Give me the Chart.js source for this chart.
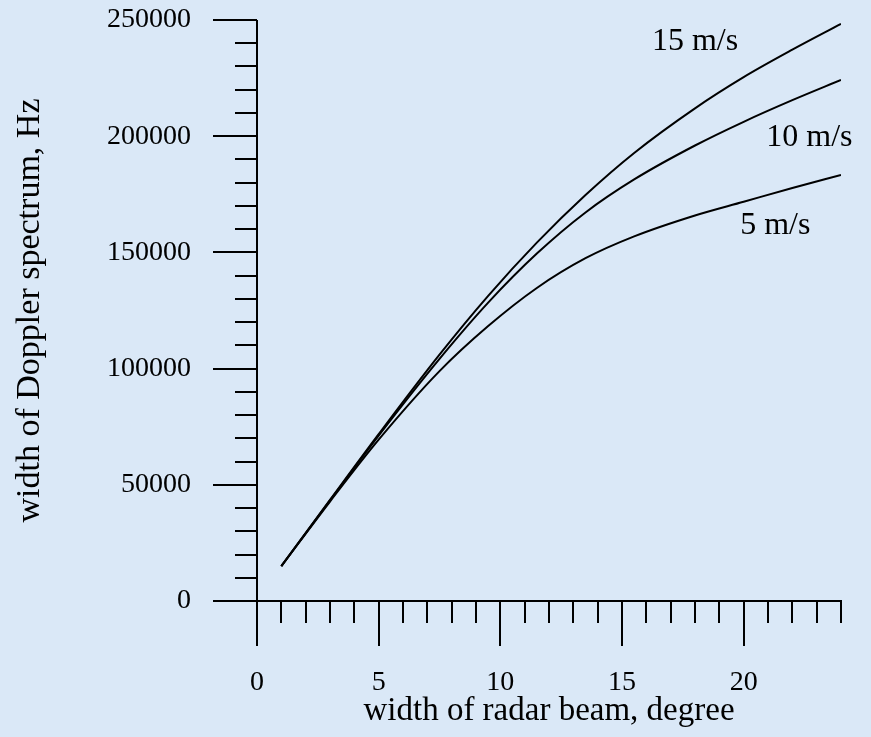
<!DOCTYPE html>
<html>
<head>
<title>Width of Doppler spectrum vs radar beam width</title>
<script src="https://cdn.jsdelivr.net/npm/chart.js@4/dist/chart.umd.min.js"></script>
<style>
body { margin: 0; background: #dae8f7; }
#wrap { width: 871px; height: 737px; position: relative; }
</style>
</head>
<body>
<div id="wrap"><canvas id="chart"></canvas></div>

<script>
// values
const beamWidth = [1, 3, 5, 7.5, 9.5, 11.5, 13.5, 15.5, 18, 20, 22, 24];
const speed15 = [15000, 43500, 71800, 106000, 131300, 154200, 174700, 192800, 212000, 225400, 237200, 248300];
const speed10 = [15000, 43300, 71200, 104200, 128400, 149500, 167200, 181400, 196000, 206200, 215500, 224200];
const speed5 = [15000, 42800, 69400, 98900, 118300, 134700, 147500, 156900, 165900, 171800, 177700, 183300];
const seriesNames = ['15 m/s', '10 m/s', '5 m/s'];
const xTickValues = [0, 5, 10, 15, 20];
const yTickValues = [0, 50000, 100000, 150000, 200000, 250000];

const X_MINOR = 1, X_MAJOR = 5;
const Y_MINOR = 10000, Y_MAJOR = 50000;
const SERIF = "'Liberation Serif', 'Times New Roman', serif";

// where each curve name sits, in data units
const nameAnchor = [
    { x: 18.0, y: 240500 },
    { x: 22.7, y: 199500 },
    { x: 21.3, y: 161500 }
];

function toPoints(ys) {
    return beamWidth.map((x, i) => ({ x: x, y: ys[i] }));
}

// axes cross at the origin, long ticks every 5 / 50000, short ones in between
const crossAxes = {
    id: 'crossAxes',
    afterDraw(chart) {
        const ctx = chart.ctx;
        const xs = chart.scales.x, ys = chart.scales.y;
        const x0 = Math.round(xs.getPixelForValue(0));
        const y0 = Math.round(ys.getPixelForValue(0));
        ctx.save();
        ctx.strokeStyle = '#000';
        ctx.lineWidth = 2;
        ctx.beginPath();
        ctx.moveTo(x0, Math.round(ys.getPixelForValue(ys.max)));
        ctx.lineTo(x0, y0 + 45);
        ctx.moveTo(x0 - 44, y0);
        ctx.lineTo(Math.round(xs.getPixelForValue(xs.max)) + 1, y0);
        for (let v = Y_MINOR; v <= ys.max; v += Y_MINOR) {
            const p = Math.round(ys.getPixelForValue(v));
            const len = v % Y_MAJOR === 0 ? 44 : 22;
            ctx.moveTo(x0 - len, p);
            ctx.lineTo(x0, p);
        }
        for (let d = X_MINOR; d <= xs.max; d += X_MINOR) {
            const p = Math.round(xs.getPixelForValue(d));
            const len = d % X_MAJOR === 0 ? 45 : 22;
            ctx.moveTo(p, y0);
            ctx.lineTo(p, y0 + len);
        }
        ctx.stroke();

        ctx.fillStyle = '#000';
        ctx.font = '32px ' + SERIF;
        ctx.textAlign = 'center';
        ctx.textBaseline = 'middle';
        chart.data.datasets.forEach((ds, i) => {
            ctx.fillText(ds.label, xs.getPixelForValue(nameAnchor[i].x), ys.getPixelForValue(nameAnchor[i].y));
        });
        ctx.restore();
    }
};

const lineStyle = {
    borderColor: '#000',
    borderWidth: 2,
    pointRadius: 0,
    cubicInterpolationMode: 'monotone',
    fill: false
};

// tick marks come from the plugin; the library's own ones only push the labels out
const hiddenTicks = len => ({ display: true, drawOnChartArea: false, tickLength: len, tickColor: 'rgba(0,0,0,0)' });

new Chart(document.getElementById('chart'), {
    type: 'line',
    data: {
        datasets: [
            Object.assign({ label: seriesNames[0], data: toPoints(speed15) }, lineStyle),
            Object.assign({ label: seriesNames[1], data: toPoints(speed10) }, lineStyle),
            Object.assign({ label: seriesNames[2], data: toPoints(speed5) }, lineStyle)
        ]
    },
    options: {
        responsive: true,
        maintainAspectRatio: false,
        animation: false,
        layout: { padding: { top: 20, right: 30, left: 0, bottom: 0 } },
        plugins: { legend: { display: false }, tooltip: { enabled: false } },
        scales: {
            x: {
                type: 'linear',
                min: 0,
                max: 24,
                grid: hiddenTicks(65),
                border: { display: false },
                afterBuildTicks: s => { s.ticks = xTickValues.map(v => ({ value: v })); },
                afterFit: s => { s.height = 136; },
                ticks: { color: '#000', padding: 0, maxRotation: 0, font: { family: SERIF, size: 28 } },
                title: {
                    display: true,
                    text: 'width of radar beam, degree',
                    color: '#000',
                    padding: { top: 0, bottom: 6 },
                    font: { family: SERIF, size: 33 }
                }
            },
            y: {
                min: 0,
                max: 250000,
                grid: hiddenTicks(66),
                border: { display: false },
                afterBuildTicks: s => { s.ticks = yTickValues.map(v => ({ value: v })); },
                afterFit: s => { s.width = 257; },
                ticks: { color: '#000', padding: 0, font: { family: SERIF, size: 28 }, callback: v => String(v) },
                title: {
                    display: true,
                    text: 'width of Doppler spectrum, Hz',
                    color: '#000',
                    padding: { top: 10, bottom: 0 },
                    font: { family: SERIF, size: 34 }
                }
            }
        }
    },
    plugins: [crossAxes]
});
</script>
</body>
</html>
